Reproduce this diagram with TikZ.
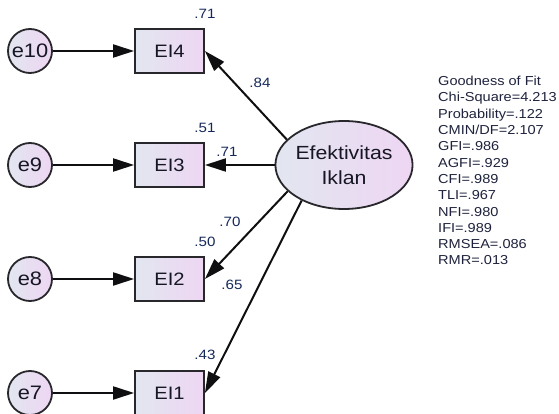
\documentclass[tikz,border=0pt]{standalone}
\usepackage{fontspec}
\setmainfont{Liberation Sans}[FakeStretch=1.12]
\usetikzlibrary{shapes.geometric,arrows.meta}

\definecolor{fillL}{RGB}{226,230,240}
\definecolor{fillR}{RGB}{238,214,243}
\definecolor{edgecol}{RGB}{40,40,44}
\definecolor{linecol}{RGB}{15,15,18}
\definecolor{txtcol}{RGB}{22,22,36}
\definecolor{labcol}{RGB}{22,40,90}
\definecolor{fitcol}{RGB}{30,34,60}

\tikzset{
  shaded/.style={left color=fillL, right color=fillR, draw=edgecol, line width=1.8pt},
  obs/.style={shaded, rectangle, minimum width=69pt, minimum height=44pt, inner sep=0pt,
    font=\fontsize{18}{20}\selectfont, text=txtcol},
  err/.style={shaded, circle, minimum size=44pt, inner sep=0pt,
    font=\fontsize{19.5}{21}\selectfont, text=txtcol},
  latent/.style={shaded, ellipse, minimum width=136pt, minimum height=88pt, inner sep=0pt,
    align=center, font=\fontsize{19}{25}\selectfont, text=txtcol},
  lab/.style={inner sep=0pt, font=\fontsize{13.5}{15}\selectfont, text=labcol},
  path/.style={draw=linecol, line width=2pt, -{Triangle[length=21pt,width=13pt]}},
}

\begin{document}
\begin{tikzpicture}[x=1pt,y=-1pt]
\useasboundingbox (0,0) rectangle (559,414);

% indicators
\node[obs] (EI4) at (169.5,51) {EI4};
\node[obs] (EI3) at (169.5,165) {EI3};
\node[obs] (EI2) at (169.5,279) {EI2};
\node[obs] (EI1) at (169.5,393) {EI1};

% error terms
\node[err] (e10) at (30,51) {e10};
\node[err] (e9) at (30,165) {e9};
\node[err] (e8) at (30,279) {e8};
\node[err] (e7) at (30,393) {e7};

% latent construct
\node[latent] (lat) at (344,165) {Efektivitas\\Iklan};

% error paths
\draw[path] (e10) -- (EI4);
\draw[path] (e9) -- (EI3);
\draw[path] (e8) -- (EI2);
\draw[path] (e7) -- (EI1);

% loadings
\draw[path] (lat.156) -- (EI4.east);
\draw[path] (lat) -- (EI3.east);
\draw[path] (lat.205) -- (EI2.east);
\draw[path] (lat.220) -- (EI1.east);

% squared multiple correlations
\node[lab] (r4) at (205,14) {.71};
\node[lab] (r3) at (205,128) {.51};
\node[lab] (r2) at (205,242) {.50};
\node[lab] (r1) at (205,355) {.43};

% standardized loadings
\node[lab] (l4) at (260,83) {.84};
\node[lab] (l3) at (227,152) {.71};
\node[lab] (l2) at (230,222) {.70};
\node[lab] (l1) at (232,285) {.65};

% fit statistics
\node[anchor=north west, inner sep=0pt, align=left, text=fitcol,
      font=\fontsize{13}{16.3}\selectfont] (fit) at (438,76)
  {Goodness of Fit\\Chi-Square=4.213\\Probability=.122\\CMIN/DF=2.107\\GFI=.986\\AGFI=.929\\CFI=.989\\TLI=.967\\NFI=.980\\IFI=.989\\RMSEA=.086\\RMR=.013};
\end{tikzpicture}
\end{document}
